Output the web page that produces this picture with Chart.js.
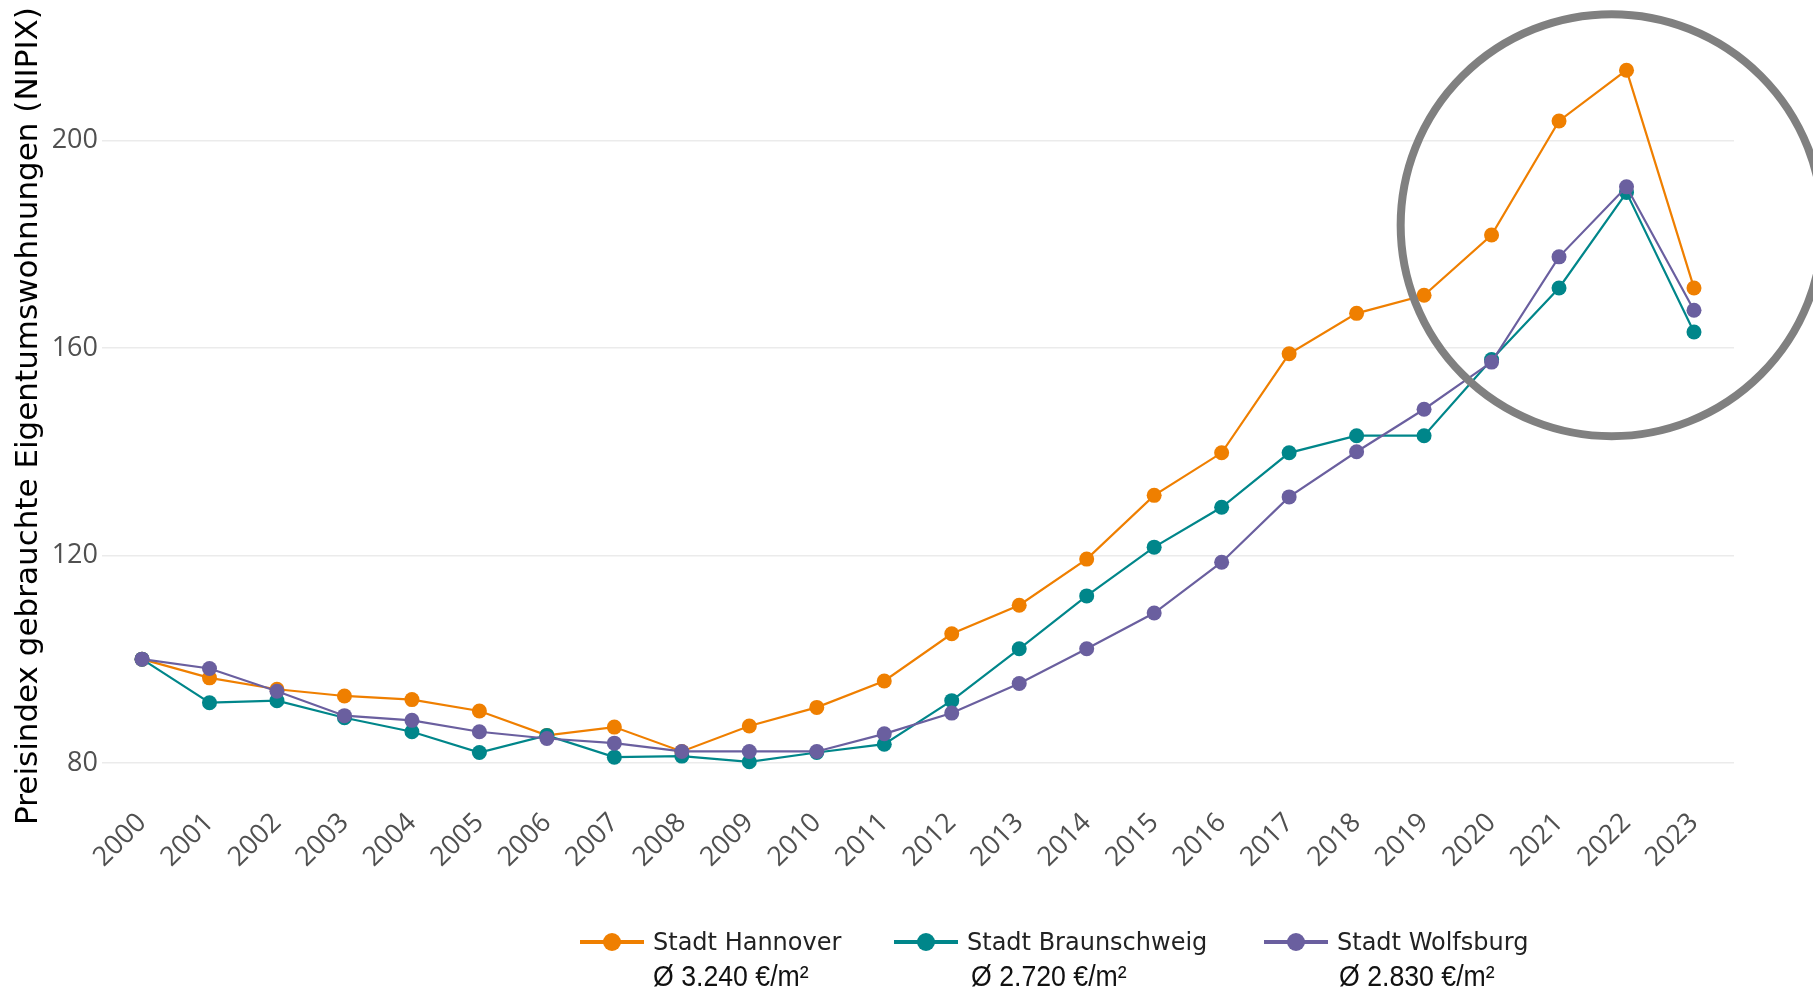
<!DOCTYPE html>
<html>
<head>
<meta charset="utf-8">
<script src="https://cdn.jsdelivr.net/npm/chart.js@4.4.0/dist/chart.umd.min.js"></script>
<style>
  html, body { margin: 0; padding: 0; background: #fff; }
  #wrap { position: relative; width: 1813px; height: 991px; overflow: hidden; }
  #legend { position: absolute; left: 0; top: 0; width: 1813px; height: 991px; pointer-events: none; }
  .item { position: absolute; top: 926px; }
  .sym { position: absolute; left: 0; top: 7px; width: 64px; height: 18px; }
  .sym .ln { position: absolute; left: 0; right: 0; top: 7px; height: 4px; }
  .sym .dot { position: absolute; left: 23px; top: 0; width: 18px; height: 18px; border-radius: 50%; }
  .name { position: absolute; left: 73px; top: 0; white-space: nowrap; font-family: 'DejaVu Sans', sans-serif; font-size: 24px; color: #222; line-height: 32px; }
  .avg { position: absolute; top: 34px; white-space: nowrap; font-family: 'Liberation Sans', Arial, sans-serif; font-size: 29px; color: #111; line-height: 32px; transform: scaleX(0.92); transform-origin: left center; }
</style>
</head>
<body>
<div id="wrap">
  <canvas id="chart" width="1813" height="991"></canvas>
  <div id="legend"></div>
</div>
<script>
// data
const years = [2000, 2001, 2002, 2003, 2004, 2005, 2006, 2007, 2008, 2009, 2010, 2011,
               2012, 2013, 2014, 2015, 2016, 2017, 2018, 2019, 2020, 2021, 2022, 2023];
const hannover = [100, 96.4, 94.2, 92.9, 92.2, 90.0, 85.3, 86.9, 82.2, 87.1, 90.7, 95.8,
                  104.9, 110.4, 119.3, 131.6, 139.8, 158.9, 166.7, 170.2, 181.8, 203.8, 213.6, 171.6];
const braunschweig = [100, 91.6, 92.0, 88.7, 86.0, 82.0, 85.3, 81.1, 81.3, 80.2, 82.0, 83.6,
                      92.0, 102.0, 112.2, 121.6, 129.3, 139.8, 143.1, 143.1, 157.8, 171.6, 190.0, 163.1];
const wolfsburg = [100, 98.2, 93.8, 89.1, 88.2, 86.0, 84.7, 83.8, 82.2, 82.2, 82.2, 85.6,
                   89.6, 95.3, 102.0, 108.9, 118.7, 131.3, 140.0, 148.2, 157.3, 177.6, 191.1, 167.3];
const seriesNames = ['Stadt Hannover', 'Stadt Braunschweig', 'Stadt Wolfsburg'];
const avgPrices = ['Ø 3.240 €/m²', 'Ø 2.720 €/m²', 'Ø 2.830 €/m²'];
const yTicks = [80, 120, 160, 200];
const yTitle = 'Preisindex gebrauchte Eigentumswohnungen (NIPIX)';

const colors = ['#ef7f00', '#00868a', '#6a5f9f'];
const legendLeft = [580, 894, 1264];
const avgLeft = [73, 77, 75];

// highlight ring around the last years
const ring = { x: 2021.78, y: 183.7, r: 211 };

const ringPlugin = {
  id: 'ring',
  afterDatasetsDraw(chart) {
    const { ctx, scales: { x, y } } = chart;
    ctx.save();
    ctx.beginPath();
    ctx.arc(x.getPixelForValue(ring.x), y.getPixelForValue(ring.y), ring.r, 0, Math.PI * 2);
    ctx.lineWidth = 8;
    ctx.strokeStyle = '#808080';
    ctx.stroke();
    ctx.restore();
  }
};

const series = [hannover, braunschweig, wolfsburg];
const datasets = series.map((vals, i) => ({
  label: seriesNames[i],
  data: vals.map((v, j) => ({ x: years[j], y: v })),
  borderColor: colors[i],
  backgroundColor: colors[i],
  borderWidth: 2.2,
  pointRadius: 7.5,
  pointHoverRadius: 7.5,
  pointBorderWidth: 0,
  tension: 0,
  order: 3 - i
}));

new Chart(document.getElementById('chart').getContext('2d'), {
  type: 'line',
  data: { datasets },
  plugins: [ringPlugin],
  options: {
    responsive: false,
    animation: false,
    layout: { padding: { top: 37, right: 79, left: 0, bottom: 0 } },
    plugins: { legend: { display: false }, tooltip: { enabled: false } },
    scales: {
      x: {
        type: 'linear',
        min: 1999.407,
        max: 2023.593,
        afterBuildTicks: s => { s.ticks = years.map(v => ({ value: v })); },
        afterFit: s => { s.height = 196; },
        grid: { display: false, drawTicks: false },
        border: { display: false },
        ticks: {
          autoSkip: false,
          maxRotation: 45,
          minRotation: 45,
          padding: 12,
          color: '#505050',
          font: { family: 'Open Sans', size: 27 },
          callback: v => String(v)
        }
      },
      y: {
        min: 73.8,
        max: 220,
        afterBuildTicks: s => { s.ticks = yTicks.map(v => ({ value: v })); },
        afterFit: s => { s.width = 102; },
        grid: { color: '#ebebeb', lineWidth: 1.5, drawTicks: false },
        border: { display: false },
        ticks: {
          padding: 4,
          color: '#505050',
          font: { family: 'Open Sans', size: 27 }
        },
        title: {
          display: true,
          text: yTitle,
          color: '#000',
          font: { family: 'DejaVu Sans', size: 31 },
          padding: { top: 10, bottom: 0 }
        }
      }
    }
  }
});

// legend below the plot
const legend = document.getElementById('legend');
seriesNames.forEach((name, i) => {
  const item = document.createElement('div');
  item.className = 'item';
  item.style.left = legendLeft[i] + 'px';
  item.innerHTML = `
    <div class="sym"><div class="ln" style="background:${colors[i]}"></div><div class="dot" style="background:${colors[i]}"></div></div>
    <div class="name">${name}</div>
    <div class="avg" style="left:${avgLeft[i]}px">${avgPrices[i]}</div>`;
  legend.appendChild(item);
});
</script>
</body>
</html>
